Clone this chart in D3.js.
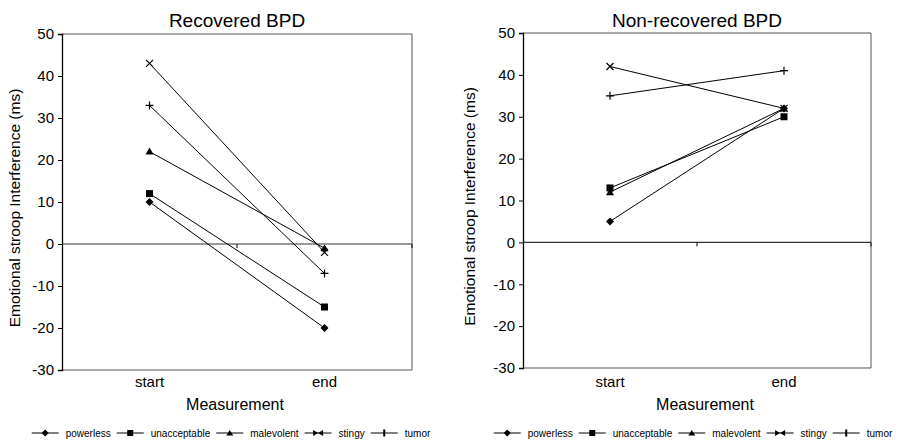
<!DOCTYPE html>
<html><head><meta charset="utf-8">
<script src="https://cdn.jsdelivr.net/npm/d3@7/dist/d3.min.js"></script>
<style>body{margin:0;background:#fff}svg{display:block;font-family:Arial,"Liberation Sans",sans-serif}</style>
</head><body><svg id="c" width="898" height="442"></svg>
<script>
const categories = ["start", "end"];
const seriesNames = ["powerless", "unacceptable", "malevolent", "stingy", "tumor"];
const markerTypes = ["diamond", "square", "triangle", "cross", "plus"];
const recoveredValues = [[10, -20], [12, -15], [22, -1], [43, -2], [33, -7]];
const nonRecoveredValues = [[5, 32], [13, 30], [12, 32], [42, 32], [35, 41]];
const yTicks = [50, 40, 30, 20, 10, 0, -10, -20, -30];
const titles = ["Recovered BPD", "Non-recovered BPD"];
const yLabel = "Emotional stroop Interference (ms)";
const xLabel = "Measurement";

const svg = d3.select("#c");

function marker(g, type, x, y) {
  if (type === "diamond") {
    g.append("path").attr("d", `M${x},${y-4}L${x+4},${y}L${x},${y+4}L${x-4},${y}Z`).attr("fill", "#000");
  } else if (type === "square") {
    g.append("rect").attr("x", x-3.5).attr("y", y-3.5).attr("width", 7).attr("height", 7).attr("fill", "#000");
  } else if (type === "triangle") {
    g.append("path").attr("d", `M${x},${y-4}L${x+4},${y+3}L${x-4},${y+3}Z`).attr("fill", "#000");
  } else if (type === "cross") {
    g.append("path").attr("d", `M${x-3.5},${y-3.5}L${x+3.5},${y+3.5}M${x+3.5},${y-3.5}L${x-3.5},${y+3.5}`).attr("stroke", "#000").attr("stroke-width", 1.2);
  } else if (type === "plus") {
    g.append("path").attr("d", `M${x-4},${y}L${x+4},${y}M${x},${y-4}L${x},${y+4}`).attr("stroke", "#000").attr("stroke-width", 1.2);
  }
}

function legendMarker(g, type, x, y) {
  if (type === "cross") {
    g.append("path").attr("d", `M${x-5},${y-3}L${x},${y}L${x-5},${y+3}Z`).attr("fill", "#000");
    g.append("path").attr("d", `M${x+5},${y-3}L${x},${y}L${x+5},${y+3}Z`).attr("fill", "#000");
  } else if (type === "plus") {
    g.append("rect").attr("x", x-1).attr("y", y-3.5).attr("width", 2).attr("height", 7).attr("fill", "#000");
  } else if (type === "diamond") {
    g.append("path").attr("d", `M${x},${y-3.5}L${x+3.5},${y}L${x},${y+3.5}L${x-3.5},${y}Z`).attr("fill", "#000");
  } else if (type === "square") {
    g.append("rect").attr("x", x-3).attr("y", y-3).attr("width", 6).attr("height", 6).attr("fill", "#000");
  } else if (type === "triangle") {
    g.append("path").attr("d", `M${x},${y-3}L${x+3.5},${y+2.5}L${x-3.5},${y+2.5}Z`).attr("fill", "#000");
  }
}

function panel(cfg) {
  const g = svg.append("g");
  const x = d3.scalePoint().domain(categories).range([cfg.x0, cfg.x1]).padding(0.5);
  const xb = d3.scaleBand().domain(categories).range([cfg.x0, cfg.x1]);
  const y = d3.scaleLinear().domain([-30, 50]).range([cfg.y1, cfg.y0]);

  // frame (top, right, bottom)
  g.append("path").attr("d", `M${cfg.x0},${cfg.y0}H${cfg.x1}V${cfg.y1}H${cfg.x0}`)
    .attr("fill", "none").attr("stroke", "#555").attr("stroke-width", 1);

  // y axis
  const ya = g.append("g").attr("transform", `translate(${cfg.x0},0)`)
    .call(d3.axisLeft(y).tickValues(yTicks).tickSize(4).tickPadding(4).tickFormat(d => String(d)));
  ya.select(".domain").attr("stroke", "#000").attr("stroke-width", 1.3);
  ya.selectAll(".tick line").attr("stroke", "#000");
  ya.selectAll("text").attr("font-size", 15).attr("fill", "#000").attr("font-family", "Arial, Liberation Sans, sans-serif");

  // x axis at zero
  const xa = g.append("g").attr("transform", `translate(0,${y(0)})`);
  xa.append("line").attr("x1", cfg.x0).attr("x2", cfg.x1).attr("stroke", "#333").attr("stroke-width", 1.2);
  categories.forEach(c => {
    const bx = xb(c) + xb.bandwidth();
    xa.append("line").attr("x1", bx).attr("x2", bx).attr("y1", 0).attr("y2", 4).attr("stroke", "#000");
  });

  // category labels
  categories.forEach(c => {
    g.append("text").attr("x", x(c)).attr("y", 387).attr("text-anchor", "middle")
      .attr("font-size", 15).text(c);
  });
  g.append("text").attr("x", cfg.mx).attr("y", 410).attr("text-anchor", "middle").attr("font-size", 16).text(xLabel);
  g.append("text").attr("x", (cfg.x0 + cfg.x1) / 2).attr("y", 27).attr("text-anchor", "middle").attr("font-size", 19).text(cfg.title);
  g.append("text").attr("transform", `translate(${cfg.ylx},${(cfg.y0 + cfg.y1) / 2 + 6}) rotate(-90)`)
    .attr("text-anchor", "middle").attr("font-size", 15.5).text(yLabel);

  // series
  const line = d3.line().x((d, i) => x(categories[i])).y(d => y(d));
  cfg.values.forEach((vals, si) => {
    g.append("path").attr("d", line(vals)).attr("fill", "none").attr("stroke", "#000").attr("stroke-width", 1);
  });
  cfg.values.forEach((vals, si) => {
    vals.forEach((v, i) => marker(g, markerTypes[si], x(categories[i]), y(v)));
  });

  // legend
  const lg = g.append("g").attr("font-size", 10);
  const ly = 433;
  let cx = 0;
  const items = [];
  seriesNames.forEach((n, si) => {
    const t = lg.append("text").attr("y", ly + 3.5).text(n);
    const w = t.node().getComputedTextLength();
    items.push({t, w, start: cx});
    cx += 27 + 7 + w + 6;
  });
  const total = cx - 6;
  const off = cfg.lcx - total / 2;
  items.forEach((it, si) => {
    const sx = off + it.start;
    lg.append("line").attr("x1", sx).attr("x2", sx + 27).attr("y1", ly).attr("y2", ly).attr("stroke", "#000").attr("stroke-width", 1);
    legendMarker(lg, markerTypes[si], sx + 13.5, ly);
    it.t.attr("x", sx + 27 + 7);
  });
}

panel({x0: 62, x1: 412, y0: 34, y1: 370, values: recoveredValues, title: titles[0], ylx: 20, mx: 235, lcx: 231});
panel({x0: 523, x1: 871, y0: 33, y1: 368, values: nonRecoveredValues, title: titles[1], ylx: 475, mx: 705, lcx: 693});
</script></body></html>
